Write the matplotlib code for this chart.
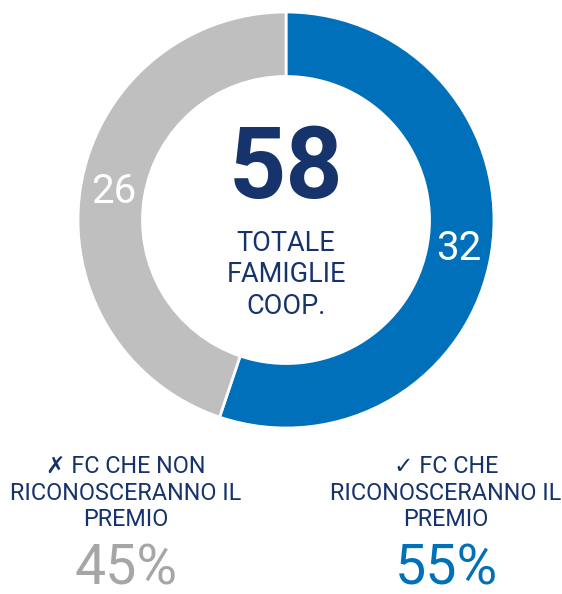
import matplotlib.pyplot as plt

plt.rcParams['font.family'] = ['Roboto', 'DejaVu Sans']

values = [32, 26]
colors = ['#0070BA', '#BFBFBF']
total = 58
center_lines = ['TOTALE', 'FAMIGLIE', 'COOP.']
bottom_labels = ['\u2717 FC CHE NON\nRICONOSCERANNO IL\nPREMIO',
                 '\u2713 FC CHE\nRICONOSCERANNO IL\nPREMIO']
percents = ['45%', '55%']
pct_colors = ['#A6A6A6', '#0070BA']
navy = '#17336B'

fig = plt.figure(figsize=(5.62, 5.94), dpi=100)
W, H = 562, 594
cx, cy, r = 286, 220, 208
ax = fig.add_axes([(cx - r) / W, (H - cy - r) / H, 2 * r / W, 2 * r / H])

wedges, texts = ax.pie(values, colors=colors, startangle=90, counterclock=False,
                       radius=1, labels=[str(v) for v in values], labeldistance=0.84,
                       wedgeprops=dict(width=0.31, edgecolor='white', linewidth=2))
for t in texts:
    t.set_ha('center')
    t.set_va('center')
    t.set_color('white')
    t.set_fontsize(29)
ax.set_aspect('equal')
ax.set_xlim(-1, 1)
ax.set_ylim(-1, 1)
ax.axis('off')

ax.text(0, 0.236, str(total), ha='center', va='center', fontsize=72,
        fontweight='bold', color=navy)
ax.text(0, -0.264, '\n'.join(center_lines), ha='center', va='center',
        fontsize=19.5, color=navy, linespacing=1.2)

fig.text(126 / W, 1 - 493 / H, bottom_labels[0], ha='center', va='center',
         fontsize=16.8, color=navy, linespacing=1.2)
fig.text(446 / W, 1 - 493 / H, bottom_labels[1], ha='center', va='center',
         fontsize=16.8, color=navy, linespacing=1.2)
fig.text(126 / W, 1 - 569 / H, percents[0], ha='center', va='center',
         fontsize=40, color=pct_colors[0])
fig.text(446 / W, 1 - 569 / H, percents[1], ha='center', va='center',
         fontsize=40, color=pct_colors[1])

fig.savefig('out.png', dpi=100)
